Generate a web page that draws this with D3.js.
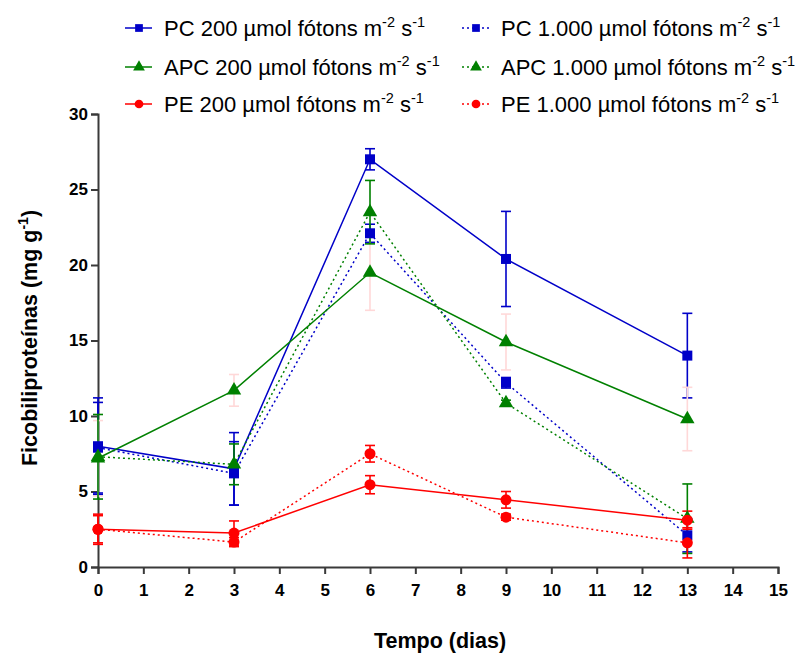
<!DOCTYPE html>
<html><head><meta charset="utf-8">
<script src="https://cdn.jsdelivr.net/npm/d3@7"></script>
<style>body{margin:0;background:#fff}svg{font-family:"Liberation Sans",Arial,sans-serif}</style>
</head><body><svg id="c" width="803" height="655"></svg>
<script>
const days = [0, 3, 6, 9, 13];
const xTicks = d3.range(0, 16);
const yTicks = [0, 5, 10, 15, 20, 25, 30];

const pc200 = [8.0, 6.5, 27.0, 20.4, 14.0];
const pc200Err = [3.2, 2.4, 0.7, 3.15, 2.8];
const pc1000 = [7.9, 6.2, 22.1, 12.2, 2.1];
const pc1000Err = [3.0, 2.1, 0.6, 0.35, 1.1];
const apc200 = [7.2, 11.7, 19.5, 14.9, 9.8];
const apc200Err = [2.5, 1.05, 2.5, 1.85, 2.1];
const apc1000 = [7.3, 6.8, 23.5, 10.85, 3.2];
const apc1000Err = [2.8, 1.35, 2.1, 0.2, 2.3];
const pe200 = [2.5, 2.25, 5.45, 4.45, 3.1];
const pe200Err = [1.0, 0.8, 0.6, 0.55, 0.6];
const pe1000 = [2.5, 1.65, 7.5, 3.3, 1.6];
const pe1000Err = [0.9, 0.3, 0.55, 0.2, 1.0];

const series = [
  {name:"PC 200 µmol fótons m", v:pc200, e:pc200Err, color:"#0000c8", err:"#0000c8", dash:null, shape:"square"},
  {name:"PC 1.000 µmol fótons m", v:pc1000, e:pc1000Err, color:"#0000c8", err:"#0000c8", dash:"2,3", shape:"square"},
  {name:"APC 200 µmol fótons m", v:apc200, e:apc200Err, color:"#008000", err:"#ffd8d8", dash:null, shape:"triangle"},
  {name:"APC 1.000 µmol fótons m", v:apc1000, e:apc1000Err, color:"#008000", err:"#008000", dash:"2,3", shape:"triangle"},
  {name:"PE 200 µmol fótons m", v:pe200, e:pe200Err, color:"#ff0000", err:"#ff0000", dash:null, shape:"circle"},
  {name:"PE 1.000 µmol fótons m", v:pe1000, e:pe1000Err, color:"#ff0000", err:"#ff0000", dash:"2,3", shape:"circle"}
];

const svg = d3.select("#c");
const m = {l:98, r:778, t:114, b:567};
const x = d3.scaleLinear().domain([0,15]).range([m.l, m.r]);
const y = d3.scaleLinear().domain([0,30]).range([m.b, m.t]);

const axisColor = "#3a3a3a";
const gx = svg.append("g").attr("transform", `translate(0,${m.b})`)
  .call(d3.axisBottom(x).tickValues(xTicks).tickSize(7).tickPadding(10).tickFormat(d3.format("d")));
const gy = svg.append("g").attr("transform", `translate(${m.l},0)`)
  .call(d3.axisLeft(y).tickValues(yTicks).tickSize(7).tickPadding(3).tickFormat(d3.format("d")));
[gx, gy].forEach(g => {
  g.select(".domain").attr("stroke", axisColor).attr("stroke-width", 2);
  g.selectAll(".tick line").attr("stroke", axisColor).attr("stroke-width", 2);
  g.selectAll(".tick text").attr("fill", "#000").style("font-size", "17px").style("font-weight", "bold");
});

const sym = {
  square: d3.symbol().type(d3.symbolSquare).size(100),
  triangle: d3.symbol().type(d3.symbolTriangle).size(90),
  circle: d3.symbol().type(d3.symbolCircle).size(95)
};

const plot = svg.append("g");
series.forEach(s => {
  const g = plot.append("g");
  s.v.forEach((v, i) => {
    const cx = x(days[i]), y1 = y(v + s.e[i]), y2 = y(v - s.e[i]);
    g.append("line").attr("x1", cx).attr("x2", cx).attr("y1", y1).attr("y2", y2)
      .attr("stroke", s.err).attr("stroke-width", 1.6);
    [y1, y2].forEach(yy => g.append("line").attr("x1", cx-5).attr("x2", cx+5).attr("y1", yy).attr("y2", yy)
      .attr("stroke", s.err).attr("stroke-width", 1.6));
  });
});
series.forEach(s => {
  const line = d3.line().x((d,i) => x(days[i])).y(d => y(d));
  plot.append("path").datum(s.v).attr("d", line).attr("fill", "none")
    .attr("stroke", s.color).attr("stroke-width", 1.5).attr("stroke-dasharray", s.dash);
  plot.selectAll(null).data(s.v).enter().append("path")
    .attr("d", sym[s.shape]).attr("transform", (d,i) => `translate(${x(days[i])},${y(d)})`)
    .attr("fill", s.color);
});

// legend
const lg = svg.append("g");
const cols = [125, 462];
const rows = [28, 67, 104];
const order = [[0,1],[2,3],[4,5]];
order.forEach((pair, r) => {
  pair.forEach((si, c) => {
    const s = series[si];
    const lx = cols[c], ly = rows[r];
    lg.append("line").attr("x1", lx).attr("x2", lx+27).attr("y1", ly).attr("y2", ly)
      .attr("stroke", s.color).attr("stroke-width", 1.5).attr("stroke-dasharray", s.dash);
    lg.append("path").attr("d", d3.symbol().type(s.shape==="square"?d3.symbolSquare:s.shape==="triangle"?d3.symbolTriangle:d3.symbolCircle).size(60))
      .attr("transform", `translate(${lx+14},${ly})`).attr("fill", s.color);
    const t = lg.append("text").attr("x", lx+39).attr("y", ly+8).style("font-size", "22px").attr("fill", "#000");
    t.append("tspan").text(s.name);
    t.append("tspan").attr("dy", -9).style("font-size", "14.5px").text("-2");
    t.append("tspan").attr("dy", 9).text(" s");
    t.append("tspan").attr("dy", -9).style("font-size", "14.5px").text("-1");
  });
});

// axis titles
svg.append("text").attr("x", 440).attr("y", 648).attr("text-anchor", "middle")
  .style("font-size", "21.5px").style("font-weight", "bold").text("Tempo (dias)");
const yt = svg.append("text").attr("transform", "translate(37,338) rotate(-90)").attr("text-anchor", "middle")
  .style("font-size", "21.5px").style("font-weight", "bold");
yt.append("tspan").text("Ficobiliproteínas (mg g");
yt.append("tspan").attr("dy", -9).style("font-size", "14px").text("-1");
yt.append("tspan").attr("dy", 9).text(")");
</script></body></html>
